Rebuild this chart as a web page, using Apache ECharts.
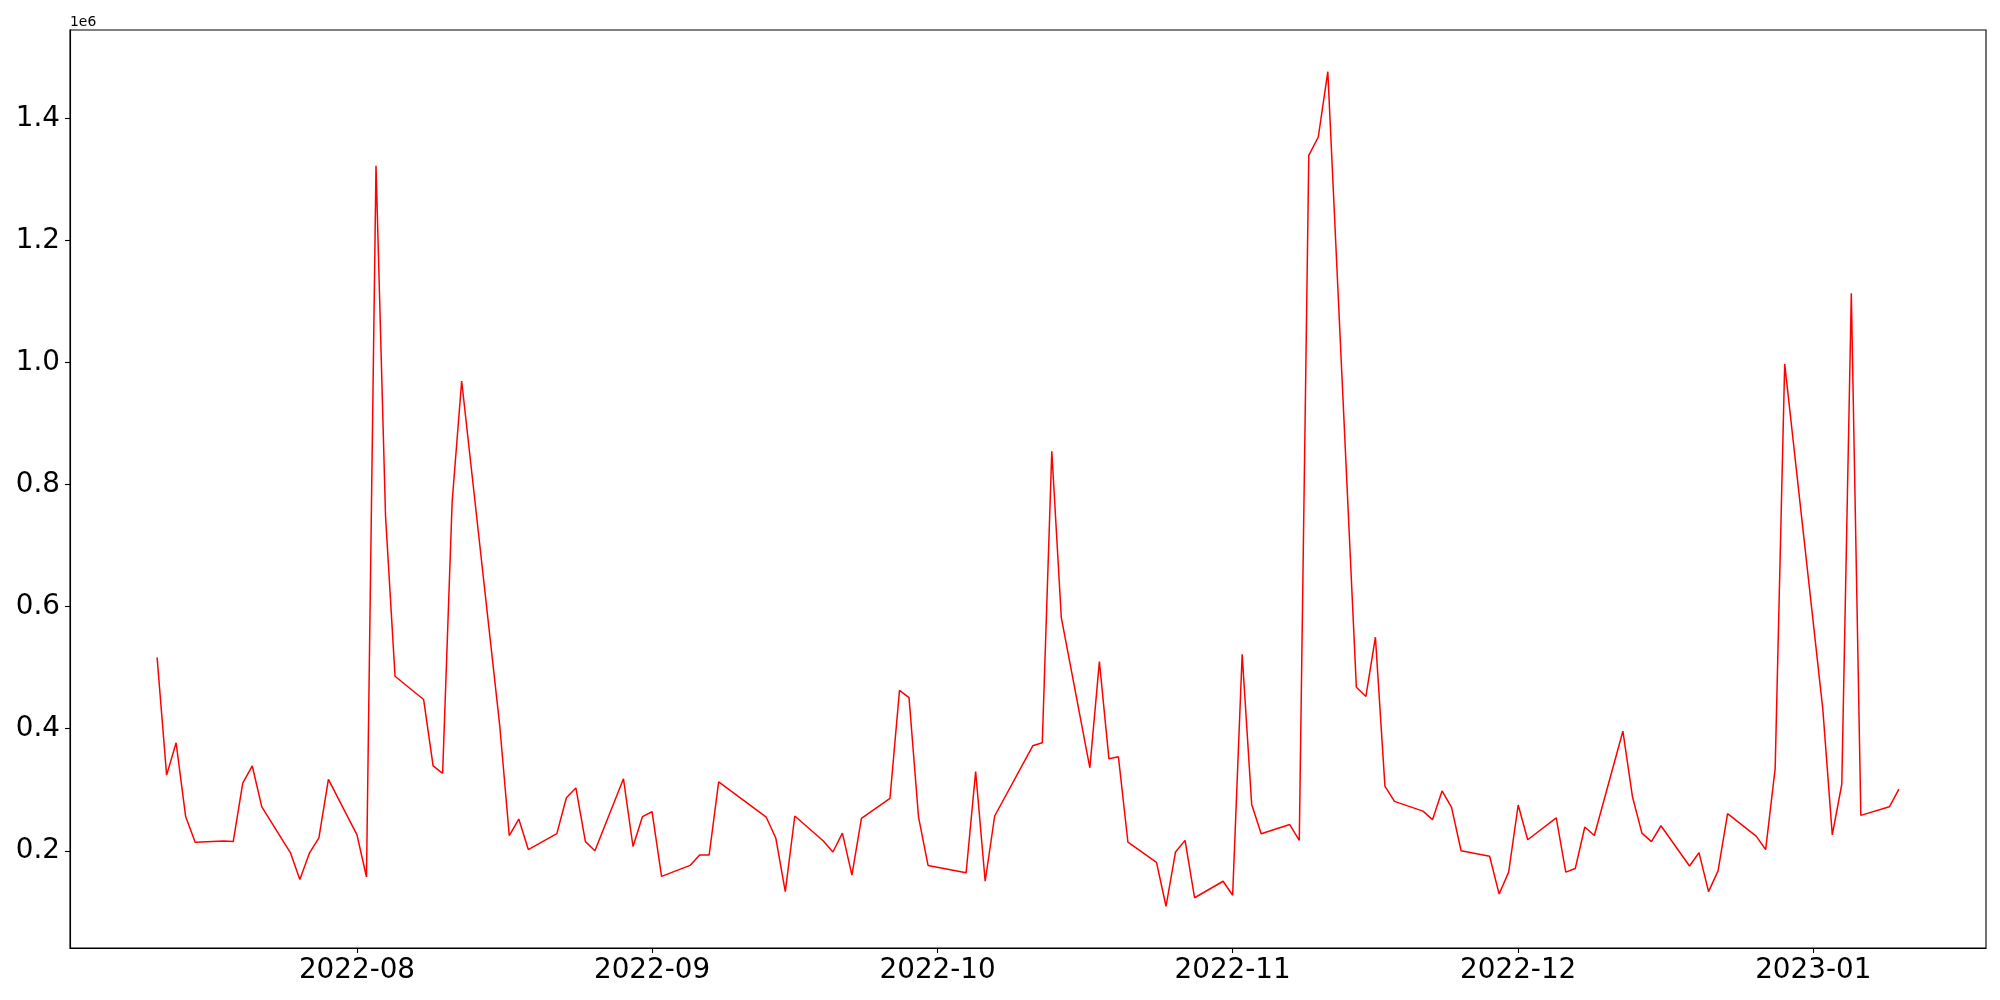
<!DOCTYPE html>
<html>
<head>
<meta charset="utf-8">
<script src="https://cdn.jsdelivr.net/npm/echarts@6/dist/echarts.min.js"></script>
<style>html,body{margin:0;padding:0;background:#fff}#c{width:2000px;height:1000px}</style>
</head>
<body>
<div id="c"></div>
<script>
const dates = [
'2022-07-11','2022-07-12','2022-07-13','2022-07-14','2022-07-15',
'2022-07-18','2022-07-19','2022-07-20','2022-07-21','2022-07-22',
'2022-07-25','2022-07-26','2022-07-27','2022-07-28','2022-07-29',
'2022-08-01','2022-08-02','2022-08-03','2022-08-04','2022-08-05',
'2022-08-08','2022-08-09','2022-08-10','2022-08-11','2022-08-12',
'2022-08-16','2022-08-17','2022-08-18','2022-08-19',
'2022-08-22','2022-08-23','2022-08-24','2022-08-25','2022-08-26',
'2022-08-29','2022-08-30','2022-08-31','2022-09-01','2022-09-02',
'2022-09-05','2022-09-06','2022-09-07','2022-09-08',
'2022-09-13','2022-09-14','2022-09-15','2022-09-16',
'2022-09-19','2022-09-20','2022-09-21','2022-09-22','2022-09-23',
'2022-09-26','2022-09-27','2022-09-28','2022-09-29','2022-09-30',
'2022-10-04','2022-10-05','2022-10-06','2022-10-07',
'2022-10-11','2022-10-12','2022-10-13','2022-10-14',
'2022-10-17','2022-10-18','2022-10-19','2022-10-20','2022-10-21',
'2022-10-24','2022-10-25','2022-10-26','2022-10-27','2022-10-28',
'2022-10-31','2022-11-01','2022-11-02','2022-11-03','2022-11-04',
'2022-11-07','2022-11-08','2022-11-09','2022-11-10','2022-11-11',
'2022-11-14','2022-11-15','2022-11-16','2022-11-17','2022-11-18',
'2022-11-21','2022-11-22','2022-11-23','2022-11-24','2022-11-25',
'2022-11-28','2022-11-29','2022-11-30','2022-12-01','2022-12-02',
'2022-12-05','2022-12-06','2022-12-07','2022-12-08','2022-12-09',
'2022-12-12','2022-12-13','2022-12-14','2022-12-15','2022-12-16',
'2022-12-19','2022-12-20','2022-12-21','2022-12-22','2022-12-23',
'2022-12-26','2022-12-27','2022-12-28','2022-12-29',
'2023-01-02','2023-01-03','2023-01-04','2023-01-05','2023-01-06',
'2023-01-09','2023-01-10'
];
const volumes = [
517000,324000,377000,256000,214000,
216000,215000,311000,339000,272000,
197000,153000,196000,221000,317000,
226000,157000,1323000,749000,486000,
448000,339000,327000,772000,970000,
405000,225000,252000,202000,
228000,287000,303000,215000,200000,
318000,207000,256000,264000,158000,
176000,193000,193000,313000,
255000,221000,133000,257000,
216000,198000,229000,160000,253000,
286000,463000,451000,255000,176000,
164000,330000,150000,257000,
372000,377000,855000,582000,
336000,510000,351000,354000,214000,
181000,109000,198000,217000,123000,
150000,127000,522000,276000,228000,
243000,217000,1340000,1370000,1477000,
468000,453000,550000,306000,281000,
265000,251000,298000,271000,200000,
191000,129000,165000,275000,218000,
254000,165000,171000,239000,225000,
396000,289000,229000,215000,241000,
175000,197000,133000,167000,261000,
224000,202000,335000,998000,
433000,226000,309000,1114000,258000,
272000,301000
];
const xTickLabels = ['2022-08','2022-09','2022-10','2022-11','2022-12','2023-01'];
const yTickValues = [200000,400000,600000,800000,1000000,1200000,1400000];

function ts(s){ const p=s.split('-').map(Number); return Date.UTC(p[0],p[1]-1,p[2]||1); }
const xTickTs = xTickLabels.map(ts);
const seriesData = dates.map((d,i)=>[ts(d), volumes[i]]);
const xs = seriesData.map(p=>p[0]);
const ys = volumes;
const xSpan = xs[xs.length-1]-xs[0];
const xMin = xs[0]-0.05*xSpan, xMax = xs[xs.length-1]+0.05*xSpan;
const yLo = Math.min(...ys), yHi = Math.max(...ys);
const ySpan = yHi-yLo;
const yMin = yLo-0.05*ySpan, yMax = yHi+0.05*ySpan;

const font = 'DejaVu Sans';
const chart = echarts.init(document.getElementById('c'), null, {renderer:'canvas'});
chart.setOption({
  animation:false,
  backgroundColor:'#fff',
  grid:{left:70, top:30, right:14, bottom:52, show:true, borderColor:'#000', borderWidth:1.1, backgroundColor:'#fff'},
  xAxis:{
    type:'value', min:xMin, max:xMax, scale:true,
    axisLine:{show:true, onZero:false, lineStyle:{color:'#000', width:1.1}},
    axisTick:{show:true, inside:false, length:5, lineStyle:{color:'#000', width:1.1}, customValues:xTickTs},
    axisLabel:{show:true, customValues:xTickTs, margin:9, color:'#000', fontFamily:font, fontSize:27.8,
      formatter:function(v){const d=new Date(v); const m=d.getUTCMonth()+1; return d.getUTCFullYear()+'-'+(m<10?'0':'')+m;}},
    splitLine:{show:false}
  },
  yAxis:{
    type:'value', min:yMin, max:yMax, scale:true,
    axisLine:{show:true, onZero:false, lineStyle:{color:'#000', width:1.1}},
    axisTick:{show:true, inside:false, length:5, lineStyle:{color:'#000', width:1.1}, customValues:yTickValues},
    axisLabel:{show:true, customValues:yTickValues, margin:10, color:'#000', fontFamily:font, fontSize:27.8,
      formatter:function(v){return (v/1e6).toFixed(1);}},
    splitLine:{show:false}
  },
  graphic:[{type:'text', left:70, top:15, style:{text:'1e6', fontFamily:font, fontSize:13.9, fill:'#000'}}],
  series:[{type:'line', data:seriesData, showSymbol:false, symbol:'none',
    lineStyle:{color:'#ff0000', width:1.5}, itemStyle:{color:'#ff0000'}}]
});
</script>
</body>
</html>
